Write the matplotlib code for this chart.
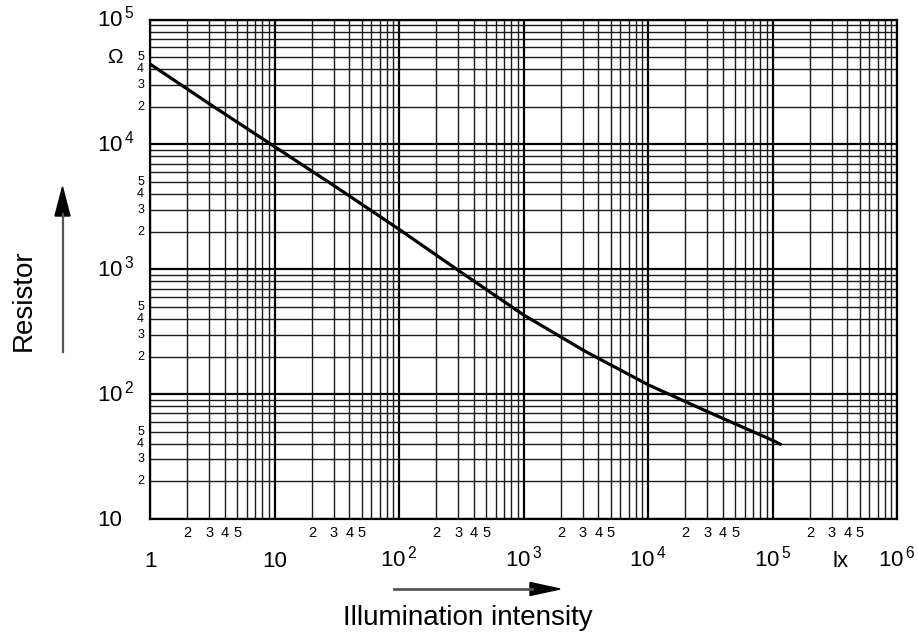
import numpy as np
import matplotlib
matplotlib.use("Agg")
import matplotlib.pyplot as plt
from matplotlib.ticker import LogLocator, NullFormatter
from matplotlib.transforms import offset_copy
from matplotlib.patches import Polygon
from matplotlib.lines import Line2D

plt.rcParams['font.family'] = ['Liberation Sans', 'DejaVu Sans']
plt.rcParams['mathtext.fontset'] = 'custom'
plt.rcParams['mathtext.rm'] = 'Liberation Sans'

# curve (lx -> ohm)
lux = [1, 3.16, 10, 31.6, 100, 316, 1000, 3160, 1e4, 3.16e4, 1e5, 1.15e5]
ohm = [44000, 20400, 9600, 4520, 2090, 944, 431, 219, 119, 70.8, 42.7, 39.8]

x_major = [1, 10, 1e2, 1e3, 1e4, 1e5, 1e6]
x_major_lab = ['1', '10', r'$\mathregular{10^{\,2}}$', r'$\mathregular{10^{\,3}}$',
               r'$\mathregular{10^{\,4}}$', r'$\mathregular{10^{\,5}}$', r'$\mathregular{10^{\,6}}$']
y_major = [10, 1e2, 1e3, 1e4, 1e5]
y_major_lab = ['10', r'$\mathregular{10^{\,2}}$', r'$\mathregular{10^{\,3}}$',
               r'$\mathregular{10^{\,4}}$', r'$\mathregular{10^{\,5}}$']
sub_lab = [2, 3, 4, 5]

W, H = 918, 635
fig = plt.figure(figsize=(W / 100, H / 100), dpi=100)
ax = fig.add_axes([150 / W, 1 - 519 / H, 747 / W, 499.5 / H])

ax.plot(lux, ohm, color='black', lw=2.3, solid_joinstyle='round')
ax.set_xscale('log')
ax.set_yscale('log')
ax.set_xlim(1, 1e6)
ax.set_ylim(10, 1e5)

for a in (ax.xaxis, ax.yaxis):
    a.set_major_locator(LogLocator(base=10, numticks=20))
    a.set_minor_locator(LogLocator(base=10, subs=np.arange(2, 10), numticks=100))
    a.set_minor_formatter(NullFormatter())
ax.grid(which='major', color='black', lw=1.6)
ax.grid(which='minor', color='#1a1a1a', lw=1.0)
ax.tick_params(which='both', length=0, labelbottom=False, labelleft=False)
for s in ax.spines.values():
    s.set_linewidth(1.6)

# x tick labels
tr_x = ax.get_xaxis_transform()
for v, lab in zip(x_major, x_major_lab):
    ax.text(v, -0.096, lab, transform=tr_x, ha='center', va='baseline', fontsize=16)
for d in x_major[:-1]:
    for s in sub_lab:
        ax.text(d * s, -0.036, str(s), transform=tr_x, ha='center', va='baseline', fontsize=10.5)
ax.text(3.5e5, -0.096, 'lx', transform=tr_x, ha='center', va='baseline', fontsize=16)

# y tick labels
tr_y = offset_copy(ax.get_yaxis_transform(), fig=fig, x=0, y=-7, units='dots')
for v, lab in zip(y_major, y_major_lab):
    ax.text(-0.071, v, lab, transform=tr_y, ha='left', va='baseline', fontsize=16)
tr_y2 = ax.get_yaxis_transform()
for d in y_major[:-1]:
    for s in sub_lab:
        ax.text(-0.008, d * s, str(s), transform=tr_y2, ha='right', va='center', fontsize=9)
ax.text(-0.047, 5e4, 'Ω', transform=tr_y2, ha='center', va='center', fontsize=15)

# axis titles with arrows
def px(x, y):
    return (x / W, 1 - y / H)

fig.text(*px(24, 300), 'Resistor', rotation=90, ha='center', va='center', fontsize=20)
fig.text(*px(468, 618), 'Illumination intensity', ha='center', va='center', fontsize=20)

fig.add_artist(Line2D(*zip(px(62.5, 352), px(62.5, 214)), transform=fig.transFigure,
                      color='#555555', lw=1.6))
fig.add_artist(Polygon([px(62.5, 187), px(55, 216), px(70, 216)], closed=True,
                       transform=fig.transFigure, color='black'))
fig.add_artist(Line2D(*zip(px(394, 589), px(532, 589)), transform=fig.transFigure,
                      color='#555555', lw=2.0))
fig.add_artist(Polygon([px(560, 589), px(530, 582.5), px(530, 595.5)], closed=True,
                       transform=fig.transFigure, color='black'))

plt.savefig("out.png", dpi=100)
